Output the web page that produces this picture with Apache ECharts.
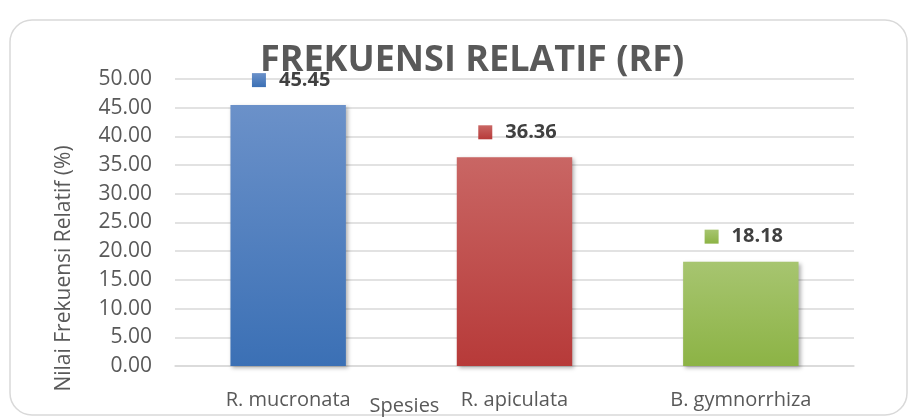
<!DOCTYPE html>
<html>
<head>
<meta charset="utf-8">
<script src="https://cdn.jsdelivr.net/npm/echarts@6/dist/echarts.min.js"></script>
<style>
  html, body { margin: 0; padding: 0; background: #fff; }
  #chart { width: 912px; height: 419px; }
</style>
</head>
<body>
<div id="chart"></div>
<script>
const categories = ['R. mucronata', 'R. apiculata', 'B. gymnorrhiza']
const values = [45.45, 36.36, 18.18]
const barColors = [
    ['#6b91c9', '#3b70b5'],
    ['#c96664', '#b73a39'],
    ['#a7c570', '#8cb345']
]
const yTicks = { min: 0, max: 50, interval: 5 }

const font = '"Open Sans", "Noto Sans", sans-serif'
const chart = echarts.init(document.getElementById('chart'))

const data = values.map((v, i) => ({
    value: v,
    itemStyle: {
        color: new echarts.graphic.LinearGradient(0, 0, 0, 1, [
            { offset: 0, color: barColors[i][0] },
            { offset: 1, color: barColors[i][1] }
        ])
    },
    label: {
        formatter: '{sq|}{gap|}{v|' + v.toFixed(2) + '}',
        rich: {
            sq: {
                width: 14, height: 14,
                backgroundColor: new echarts.graphic.LinearGradient(0, 0, 0, 1, [
                    { offset: 0, color: barColors[i][0] },
                    { offset: 1, color: barColors[i][1] }
                ])
            },
            gap: { width: 13 },
            v: { fontFamily: font, fontWeight: 'bold', fontSize: 20, color: '#404040' }
        }
    }
}))

chart.setOption({
    animation: false,
    title: {
        text: 'FREKUENSI RELATIF (RF)',
        left: 467,
        top: 38,
        textAlign: 'center',
        textStyle: { fontFamily: font, fontSize: 36, fontWeight: 'bold', color: '#595959' }
    },
    graphic: [{
        type: 'rect',
        shape: { x: 10, y: 20, width: 897, height: 395, r: 22 },
        style: { fill: 'none', stroke: '#d9d9d9', lineWidth: 1.5 },
        z: -1
    }],
    grid: { left: 175, right: 58, top: 79, bottom: 53, containLabel: false, outerBoundsMode: 'none' },
    xAxis: {
        type: 'category',
        data: categories,
        name: 'Spesies',
        nameLocation: 'middle',
        nameGap: 30,
        nameMoveOverlap: false,
        nameTextStyle: { fontFamily: font, fontSize: 20, color: '#595959', padding: [0, 220, 0, 0] },
        axisLine: { lineStyle: { color: '#d9d9d9', width: 1.5 } },
        axisTick: { show: false },
        axisLabel: { fontFamily: font, fontSize: 20, color: '#595959', margin: 24 }
    },
    yAxis: {
        type: 'value',
        min: yTicks.min,
        max: yTicks.max,
        interval: yTicks.interval,
        name: 'Nilai Frekuensi Relatif (%)',
        nameLocation: 'middle',
        nameGap: 100,
        nameMoveOverlap: false,
        nameTextStyle: { fontFamily: font, fontSize: 21, color: '#595959', padding: [0, 92, 0, 0] },
        axisLabel: { fontFamily: font, fontSize: 21, color: '#595959', margin: 23, formatter: v => v.toFixed(2) },
        splitLine: { lineStyle: { color: '#d9d9d9', width: 1.5 } }
    },
    series: [{
        type: 'bar',
        data,
        barWidth: '51%',
        itemStyle: {
            shadowColor: 'rgba(0,0,0,0.3)',
            shadowBlur: 4,
            shadowOffsetX: 2,
            shadowOffsetY: 2
        },
        label: { show: true, position: 'top', distance: 15, offset: [3, 0] }
    }]
})
</script>
</body>
</html>
